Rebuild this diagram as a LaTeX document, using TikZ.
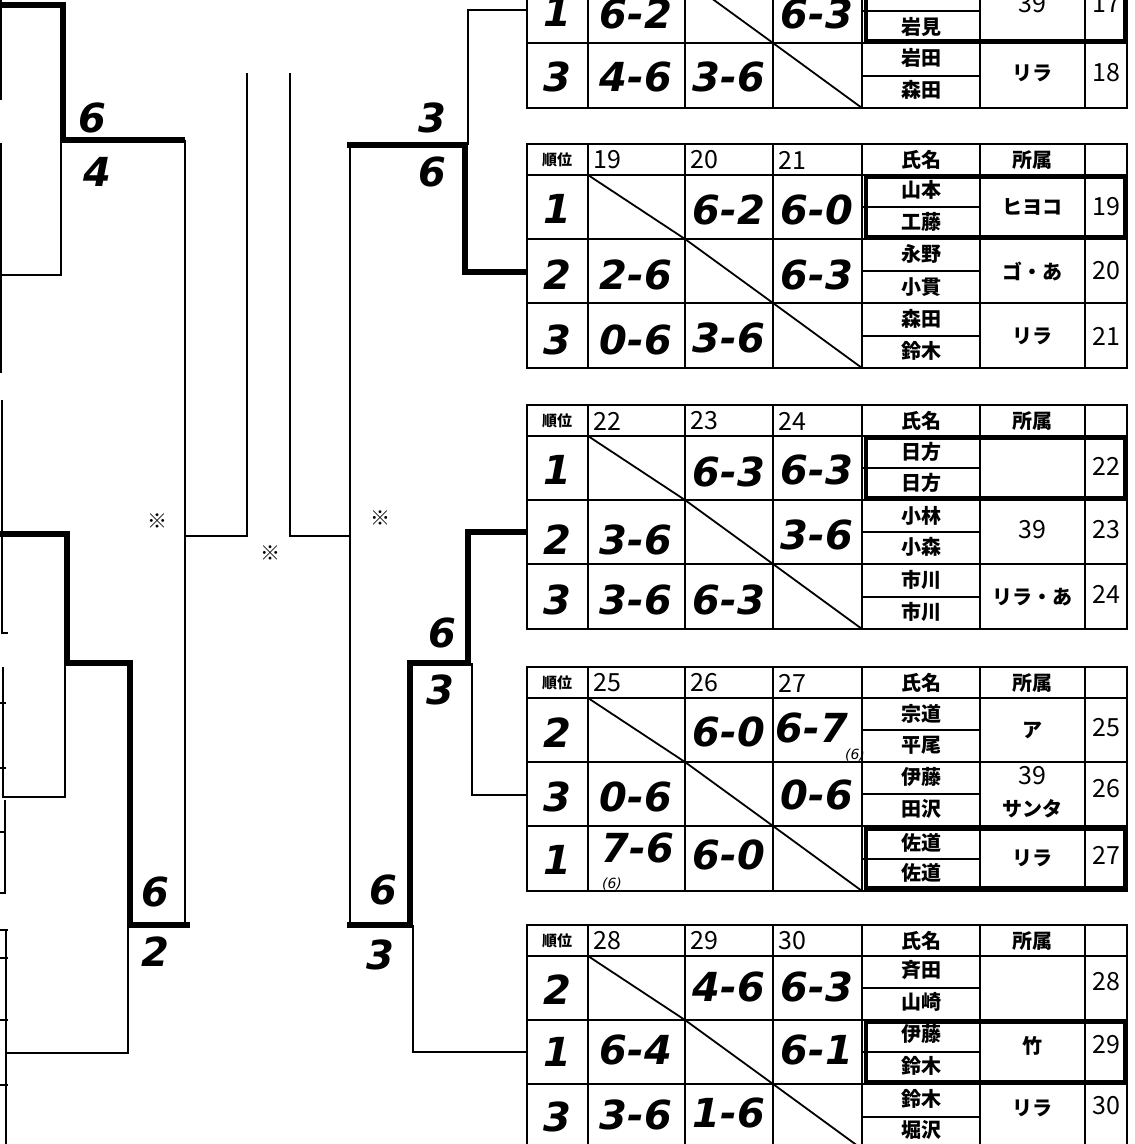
\documentclass[tikz,border=0pt]{standalone}
\usepackage{fontspec}
\newfontfamily\hand{DejaVu Sans}
\newfontfamily\cjk{Noto Sans CJK JP}
\newcommand\tablegrid[1]{%
  \draw[outer] (527,#1) rectangle (1127,#1+224);
  \draw[grid] (527,#1+31) -- (1127,#1+31);
  \draw[grid] (527,#1+95) -- (1127,#1+95);
  \draw[grid] (527,#1+159) -- (1127,#1+159);
  \foreach \xx in {588,685,773,862,980,1085} {\draw[grid] (\xx,#1) -- (\xx,#1+224);}
  \draw[grid] (862,#1+63) -- (980,#1+63);
  \draw[grid] (862,#1+127) -- (980,#1+127);
  \draw[grid] (862,#1+192) -- (980,#1+192);
  \draw[grid] (588,#1+31) -- (685,#1+95) -- (773,#1+159) -- (862,#1+224);
}
\newcommand\tablehead[5]{% prefix, top, n1, n2, n3
  \node[prtsmall] (#1-h0) at (557,#2+16) {順位};
  \node[prtnum,anchor=west] (#1-h1) at (593,#2+16) {#3};
  \node[prtnum,anchor=west] (#1-h2) at (690,#2+16) {#4};
  \node[prtnum,anchor=west] (#1-h3) at (778,#2+16) {#5};
  \node[prtlab] (#1-h4) at (921,#2+16) {氏名};
  \node[prtlab] (#1-h5) at (1032,#2+16) {所属};
}
\begin{document}
\begin{tikzpicture}[x=1pt,y=-1pt,
  thinl/.style={line width=1.8pt,line join=miter},
  thickl/.style={line width=6.5pt,line join=miter},
  grid/.style={line width=1.8pt},
  outer/.style={line width=2.4pt},
  win/.style={line width=4.5pt},
  hw/.style={font=\hand\bfseries\itshape\fontsize{40}{40}\selectfont, inner sep=0pt},
  hws/.style={font=\hand\itshape\fontsize{14}{14}\selectfont, inner sep=0pt},
  prt/.style={font=\cjk\bfseries\fontsize{20}{20}\selectfont, inner sep=0pt},
  prtsmall/.style={font=\cjk\bfseries\fontsize{15}{15}\selectfont, inner sep=0pt},
  prtlab/.style={font=\cjk\bfseries\fontsize{20}{20}\selectfont, inner sep=0pt},
  prtnum/.style={font=\cjk\fontsize{25}{25}\selectfont, inner sep=0pt},
  refmark/.style={font=\cjk\fontsize{20}{20}\selectfont, inner sep=0pt}
]
\useasboundingbox (0,0) rectangle (1135,1144);
\clip (0,0) rectangle (1135,1144);
\fill[white] (0,0) rectangle (1135,1144);

% ---------- left edge fragments ----------
\draw[thinl] (1,0) -- (1,100);
\draw[thinl] (1,143) -- (1,373);
\draw[thinl] (2,400) -- (2,633) -- (8,633);
\draw[thinl] (3,667) -- (3,798);
\draw[thinl] (0,703) -- (6,703);
\draw[thinl] (0,768) -- (6,768);
\draw[thinl] (5,800) -- (5,893) -- (0,893);
\draw[thinl] (0,832) -- (6,832);
\draw[thinl] (6,930) -- (6,1144);
\foreach \yy in {930,958,1020,1085} {\draw[thinl] (0,\yy) -- (8,\yy);}

% ---------- left bracket ----------
\draw[thickl] (0,5) -- (63,5) -- (63,140) -- (185,140);
\draw[thinl] (61,140) -- (61,275) -- (0,275);
\draw[thinl] (185,140) -- (185,925);
\draw[thickl] (0,534) -- (67,534) -- (67,663) -- (130,663) -- (130,925) -- (190,925);
\draw[thinl] (65,663) -- (65,797) -- (3,797);
\draw[thinl] (128,925) -- (128,1053) -- (7,1053);
\node[hw] (l1a) at (92,118) {6};
\node[hw] (l1b) at (97,172) {4};
\node[hw] (l2a) at (155,892) {6};
\node[hw] (l2b) at (155,952) {2};

% ---------- centre ----------
\draw[thinl] (185,536) -- (247,536) -- (247,73);
\draw[thinl] (290,73) -- (290,536) -- (350,536);
\node[refmark] (m1) at (157,521) {※};
\node[refmark] (m2) at (270,553) {※};
\node[refmark] (m3) at (380,518) {※};

% ---------- right bracket ----------
\coordinate (ea) at (527,10);
\coordinate (eb) at (527,272);
\coordinate (ec) at (527,532);
\coordinate (ed) at (527,795);
\coordinate (ee) at (527,1052);
\draw[thinl] (ea) -- (468,10) -- (468,145);
\draw[thickl] (347,145) -- (465,145) -- (465,272) -- (eb);
\draw[thinl] (350,145) -- (350,925);
\draw[thickl] (ec) -- (468,532) -- (468,663) -- (407,663);
\draw[thickl] (410,663) -- (410,925) -- (347,925);
\draw[thinl] (472,663) -- (472,795) -- (ed);
\draw[thinl] (413,925) -- (413,1052) -- (ee);
\node[hw] (r1a) at (432,118) {3};
\node[hw] (r1b) at (432,172) {6};
\node[hw] (r2a) at (442,633) {6};
\node[hw] (r2b) at (440,690) {3};
\node[hw] (r3a) at (383,890) {6};
\node[hw] (r3b) at (380,955) {3};

% ---------- table A (top, partly outside) ----------
\tablegrid{-116}
\draw[win] (866,-21) rectangle (1125,41);
\node[hw] (a-r2-0) at (557,12) {1};
\node[hw] (a-r2-1) at (636,14) {6-2};
\node[hw] (a-r2-3) at (817,14) {6-3};
\node[prt] (a-r2-n2) at (921,27) {岩見};
\node[prtnum] (a-r2-af) at (1032,4) {39};
\node[prtnum] (a-r2-no) at (1106,4) {17};
\node[hw] (a-r3-0) at (557,77) {3};
\node[hw] (a-r3-1) at (636,77) {4-6};
\node[hw] (a-r3-2) at (729,77) {3-6};
\node[prt] (a-r3-n1) at (921,58) {岩田};
\node[prt] (a-r3-n2) at (921,90) {森田};
\node[prt] (a-r3-af) at (1032,73) {リラ};
\node[prtnum] (a-r3-no) at (1106,73) {18};

% ---------- table B ----------
\tablegrid{144}
\draw[win] (866,177) rectangle (1125,237);
\tablehead{b}{144}{19}{20}{21}
\node[hw] (b-r1-0) at (557,209) {1};
\node[hw] (b-r1-2) at (729,210) {6-2};
\node[hw] (b-r1-3) at (817,210) {6-0};
\node[prt] (b-r1-n1) at (921,190) {山本};
\node[prt] (b-r1-n2) at (921,222) {工藤};
\node[prt] (b-r1-af) at (1032,207) {ヒヨコ};
\node[prtnum] (b-r1-no) at (1106,207) {19};
\node[hw] (b-r2-0) at (557,275) {2};
\node[hw] (b-r2-1) at (636,275) {2-6};
\node[hw] (b-r2-3) at (817,275) {6-3};
\node[prt] (b-r2-n1) at (921,254) {永野};
\node[prt] (b-r2-n2) at (921,287) {小貫};
\node[prt] (b-r2-af) at (1032,271) {ゴ・あ};
\node[prtnum] (b-r2-no) at (1106,271) {20};
\node[hw] (b-r3-0) at (557,340) {3};
\node[hw] (b-r3-1) at (636,340) {0-6};
\node[hw] (b-r3-2) at (729,338) {3-6};
\node[prt] (b-r3-n1) at (921,319) {森田};
\node[prt] (b-r3-n2) at (921,351) {鈴木};
\node[prt] (b-r3-af) at (1032,336) {リラ};
\node[prtnum] (b-r3-no) at (1106,336) {21};

% ---------- table C ----------
\tablegrid{405}
\draw[win] (866,438) rectangle (1125,498);
\tablehead{c}{405}{22}{23}{24}
\node[hw] (c-r1-0) at (557,470) {1};
\node[hw] (c-r1-2) at (729,472) {6-3};
\node[hw] (c-r1-3) at (817,470) {6-3};
\node[prt] (c-r1-n1) at (921,452) {日方};
\node[prt] (c-r1-n2) at (921,483) {日方};
\node[prtnum] (c-r1-no) at (1106,466) {22};
\node[hw] (c-r2-0) at (557,540) {2};
\node[hw] (c-r2-1) at (636,540) {3-6};
\node[hw] (c-r2-3) at (817,535) {3-6};
\node[prt] (c-r2-n1) at (921,516) {小林};
\node[prt] (c-r2-n2) at (921,547) {小森};
\node[prtnum] (c-r2-af) at (1032,530) {39};
\node[prtnum] (c-r2-no) at (1106,530) {23};
\node[hw] (c-r3-0) at (557,600) {3};
\node[hw] (c-r3-1) at (636,600) {3-6};
\node[hw] (c-r3-2) at (729,600) {6-3};
\node[prt] (c-r3-n1) at (921,580) {市川};
\node[prt] (c-r3-n2) at (921,612) {市川};
\node[prt] (c-r3-af) at (1032,597) {リラ・あ};
\node[prtnum] (c-r3-no) at (1106,594) {24};

% ---------- table D ----------
\tablegrid{667}
\draw[win] (866,829) rectangle (1125,888);
\tablehead{d}{667}{25}{26}{27}
\node[hw] (d-r1-0) at (557,733) {2};
\node[hw] (d-r1-2) at (729,732) {6-0};
\node[hw] (d-r1-3) at (812,728) {6-7};
\node[hws] (d-r1-3s) at (855,755) {(6)};
\node[prt] (d-r1-n1) at (921,714) {宗道};
\node[prt] (d-r1-n2) at (921,745) {平尾};
\node[prt] (d-r1-af) at (1032,730) {ア};
\node[prtnum] (d-r1-no) at (1106,728) {25};
\node[hw] (d-r2-0) at (557,797) {3};
\node[hw] (d-r2-1) at (636,797) {0-6};
\node[hw] (d-r2-3) at (817,795) {0-6};
\node[prt] (d-r2-n1) at (921,777) {伊藤};
\node[prt] (d-r2-n2) at (921,809) {田沢};
\node[prtnum] (d-r2-af) at (1032,776) {39};
\node[prt] (d-r2-af2) at (1032,809) {サンタ};
\node[prtnum] (d-r2-no) at (1106,789) {26};
\node[hw] (d-r3-0) at (557,860) {1};
\node[hw] (d-r3-1) at (638,848) {7-6};
\node[hws] (d-r3-1s) at (612,884) {(6)};
\node[hw] (d-r3-2) at (729,855) {6-0};
\node[prt] (d-r3-n1) at (921,843) {佐道};
\node[prt] (d-r3-n2) at (921,873) {佐道};
\node[prt] (d-r3-af) at (1032,858) {リラ};
\node[prtnum] (d-r3-no) at (1106,855) {27};

% ---------- table E ----------
\tablegrid{925}
\draw[win] (866,1022) rectangle (1125,1082);
\tablehead{e}{925}{28}{29}{30}
\node[hw] (e-r1-0) at (557,990) {2};
\node[hw] (e-r1-2) at (729,987) {4-6};
\node[hw] (e-r1-3) at (817,987) {6-3};
\node[prt] (e-r1-n1) at (921,970) {斉田};
\node[prt] (e-r1-n2) at (921,1002) {山崎};
\node[prtnum] (e-r1-no) at (1106,982) {28};
\node[hw] (e-r2-0) at (557,1052) {1};
\node[hw] (e-r2-1) at (636,1050) {6-4};
\node[hw] (e-r2-3) at (817,1050) {6-1};
\node[prt] (e-r2-n1) at (921,1034) {伊藤};
\node[prt] (e-r2-n2) at (921,1066) {鈴木};
\node[prt] (e-r2-af) at (1032,1046) {竹};
\node[prtnum] (e-r2-no) at (1106,1045) {29};
\node[hw] (e-r3-0) at (557,1117) {3};
\node[hw] (e-r3-1) at (636,1115) {3-6};
\node[hw] (e-r3-2) at (729,1113) {1-6};
\node[prt] (e-r3-n1) at (921,1099) {鈴木};
\node[prt] (e-r3-n2) at (921,1130) {堀沢};
\node[prt] (e-r3-af) at (1032,1108) {リラ};
\node[prtnum] (e-r3-no) at (1106,1106) {30};
\end{tikzpicture}
\end{document}
